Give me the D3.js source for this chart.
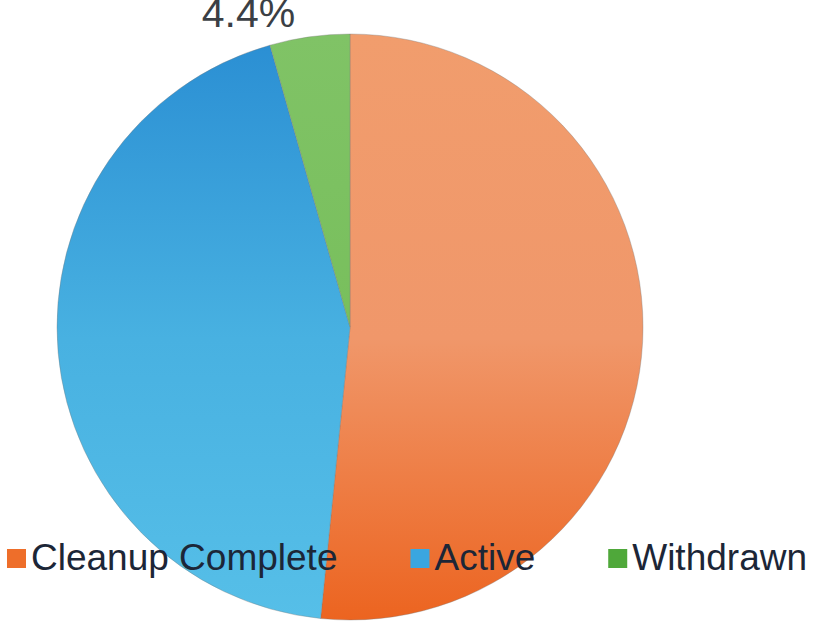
<!DOCTYPE html>
<html>
<head>
<meta charset="utf-8">
<script src="https://cdn.jsdelivr.net/npm/d3@7"></script>
<style>
  html, body { margin: 0; padding: 0; background: #ffffff; }
  svg { display: block; }
</style>
</head>
<body>
<svg id="chart"></svg>
<script>
// dados do grafico
const categorias = ["Cleanup Complete", "Active", "Withdrawn"]
const valores = [51.6, 44.0, 4.4]
const rotulos = [null, null, "4.4%"]  // so o Withdrawn mostra rotulo

// gradientes verticais de cada fatia (topo -> base)
const coresTopo = ["#f19d6d", "#2a8ed3", "#80c366"]
const coresMeio = ["#f0976a", "#48b1e1", "#78bf5c"]
const coresBase = ["#ec6420", "#56bfe8", "#6db84e"]
const coresLegenda = ["#ee6e2a", "#3aa6e0", "#4fa83a"]

const width = 814
const height = 622
const cx = 350
const cy = 327
const raio = 293

var svg = d3.select("#chart")
    .attr("width", width)
    .attr("height", height)

var defs = svg.append("defs")

// gradiente no espaco do grupo (centro da pizza = 0,0)
categorias.forEach(function(c, i) {
    var g = defs.append("linearGradient")
        .attr("id", "grad" + i)
        .attr("gradientUnits", "userSpaceOnUse")
        .attr("x1", 0).attr("x2", 0)
        .attr("y1", -raio).attr("y2", raio)
    g.append("stop").attr("offset", "0%").attr("stop-color", coresTopo[i])
    g.append("stop").attr("offset", "52%").attr("stop-color", coresMeio[i])
    g.append("stop").attr("offset", "100%").attr("stop-color", coresBase[i])
})

var pie = d3.pie().sort(null).value(d => d)
var arcos = pie(valores)

var arc = d3.arc().innerRadius(0).outerRadius(raio)

var grupo = svg.append("g").attr("transform", "translate(" + cx + "," + cy + ")")

grupo.selectAll("path")
    .data(arcos)
    .join("path")
    .attr("d", arc)
    .style("fill", (d, i) => "url(#grad" + i + ")")
    .attr("stroke", "rgba(120,120,120,0.35)")
    .attr("stroke-width", 1)

// rotulo externo (Withdrawn)
var arcFora = d3.arc().innerRadius(raio + 10).outerRadius(raio + 10)
grupo.selectAll("text.rotulo")
    .data(arcos.filter((d, i) => rotulos[i] != null))
    .join("text")
    .attr("class", "rotulo")
    .attr("x", d => arcFora.centroid(d)[0] - 13)
    .attr("y", d => arcFora.centroid(d)[1])
    .attr("text-anchor", "end")
    .style("font-family", "'Liberation Sans', Arial, sans-serif")
    .style("font-size", "41px")
    .style("fill", "#3b3f45")
    .text(d => rotulos[d.index])

// legenda
var legenda = svg.append("g")
var tamQuad = 19
var espaco = 73
var itens = legenda.selectAll("g")
    .data(categorias)
    .join("g")

itens.append("rect")
    .attr("width", tamQuad)
    .attr("height", tamQuad)
    .attr("y", -tamQuad)
    .style("fill", (d, i) => coresLegenda[i])

itens.append("text")
    .attr("x", tamQuad + 5)
    .attr("y", 2)
    .style("font-family", "'Liberation Sans', Arial, sans-serif")
    .style("font-size", "37px")
    .style("fill", "#1c2637")
    .text(d => d)

var xAtual = 0
itens.each(function() {
    var w = this.getBBox().width
    d3.select(this).attr("transform", "translate(" + xAtual + ",0)")
    xAtual += w + espaco
})
var total = xAtual - espaco
legenda.attr("transform", "translate(" + ((width - total) / 2) + ",568)")
</script>
</body>
</html>
